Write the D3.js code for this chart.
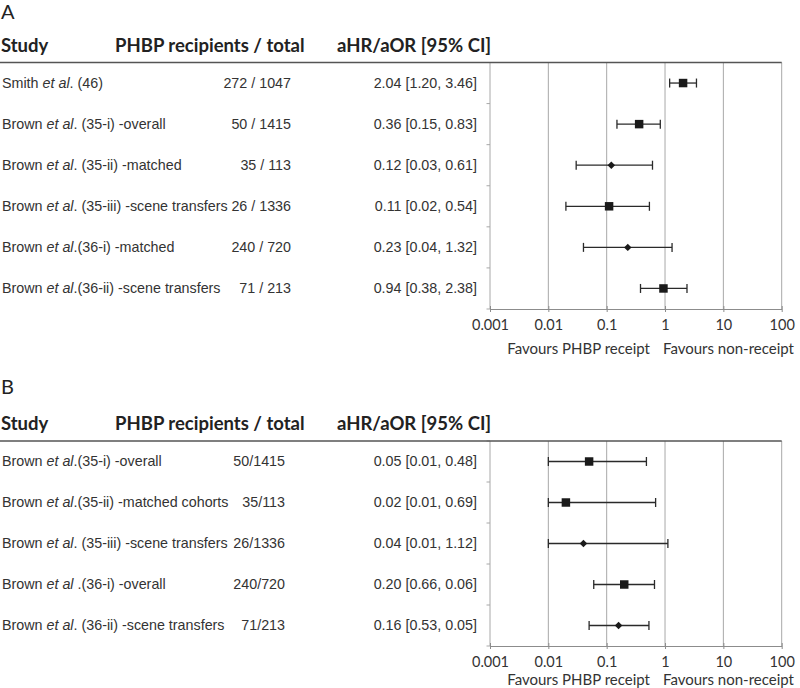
<!DOCTYPE html>
<html><head><meta charset="utf-8">
<script src="https://cdn.jsdelivr.net/npm/d3@7"></script>
<style>body{margin:0;background:#fff}svg{display:block}</style>
</head><body>
<script>
// ---- data ----
const tickValues = [0.001, 0.01, 0.1, 1, 10, 100];
const tickLabels = ["0.001", "0.01", "0.1", "1", "10", "100"];
const headers = ["Study", "PHBP recipients / total", "aHR/aOR [95% CI]"];
const favourLabels = ["Favours PHBP receipt", "Favours non-receipt"];

const studiesA = ["Smith et al. (46)", "Brown et al. (35-i) -overall", "Brown et al. (35-ii) -matched",
  "Brown et al. (35-iii) -scene transfers", "Brown et al.(36-i) -matched", "Brown et al.(36-ii) -scene transfers"];
const countsA = ["272 / 1047", "50 / 1415", "35 / 113", "26 / 1336", "240 / 720", "71 / 213"];
const estTextA = ["2.04 [1.20, 3.46]", "0.36 [0.15, 0.83]", "0.12 [0.03, 0.61]", "0.11 [0.02, 0.54]", "0.23 [0.04, 1.32]", "0.94 [0.38, 2.38]"];
const estA = [2.04, 0.36, 0.12, 0.11, 0.23, 0.94];
const loA = [1.20, 0.15, 0.03, 0.02, 0.04, 0.38];
const hiA = [3.46, 0.83, 0.61, 0.54, 1.32, 2.38];
const markerA = ["square", "square", "diamond", "square", "diamond", "square"];

const studiesB = ["Brown et al.(35-i) -overall", "Brown et al.(35-ii) -matched cohorts", "Brown et al. (35-iii) -scene transfers",
  "Brown et al .(36-i) -overall", "Brown et al. (36-ii) -scene transfers"];
const countsB = ["50/1415", "35/113", "26/1336", "240/720", "71/213"];
const estTextB = ["0.05 [0.01, 0.48]", "0.02 [0.01, 0.69]", "0.04 [0.01, 1.12]", "0.20 [0.66, 0.06]", "0.16 [0.53, 0.05]"];
const estB = [0.05, 0.02, 0.04, 0.20, 0.16];
const loB = [0.01, 0.01, 0.01, 0.06, 0.05];
const hiB = [0.48, 0.69, 1.12, 0.66, 0.53];
const markerB = ["square", "square", "diamond", "square", "diamond"];

// ---- layout ----
const W = 800, H = 688;
const svg = d3.select("body").append("svg").attr("width", W).attr("height", H);
const x = d3.scaleLog().domain([0.001, 100]).range([490, 781.7]);

const panels = [
  {label: "A", labelY: 19, headY: 52, top: 62.5, bottom: 309, favY: 354, countX: 291,
   studies: studiesA, counts: countsA, estText: estTextA, est: estA, lo: loA, hi: hiA, marker: markerA},
  {label: "B", labelY: 394, headY: 430, top: 441, bottom: 646, favY: 684.5, countX: 285,
   studies: studiesB, counts: countsB, estText: estTextB, est: estB, lo: loB, hi: hiB, marker: markerB}
];

const headFont = "Lato, 'Open Sans', sans-serif";
const rowFont = "'Liberation Sans', Arial, sans-serif";
const rowSize = 14.3;

panels.forEach(p => {
  const g = svg.append("g");
  const idx = d3.range(p.studies.length);
  const y = d3.scaleBand().domain(idx).range([p.top, p.bottom]);

  g.append("text").attr("x", 1).attr("y", p.labelY).text(p.label)
    .attr("font-family", headFont).attr("font-size", 20).attr("fill", "#222");

  // headers
  const hx = [1, 115, 337];
  headers.forEach((h, i) => {
    g.append("text").attr("x", hx[i]).attr("y", p.headY).text(h)
      .attr("font-family", headFont).attr("font-weight", "bold").attr("font-size", 18.5).attr("fill", "#222");
  });

  // vertical gridlines
  g.selectAll("line.grid").data(tickValues).join("line")
    .attr("x1", d => x(d)).attr("x2", d => x(d))
    .attr("y1", p.top).attr("y2", p.bottom)
    .attr("stroke", "#a8a8a8").attr("stroke-width", 1);

  // left ticks at band boundaries
  g.selectAll("line.lt").data(d3.range(p.studies.length + 1)).join("line")
    .attr("x1", x(0.001) - 3.5).attr("x2", x(0.001))
    .attr("y1", d => p.top + d * y.step()).attr("y2", d => p.top + d * y.step())
    .attr("stroke", "#a8a8a8");

  // bottom axis
  const axis = d3.axisBottom(x).tickValues(tickValues).tickFormat((d, i) => tickLabels[i]).tickSizeInner(3).tickSizeOuter(0);
  const ag = g.append("g").attr("transform", `translate(0,${p.bottom})`).call(axis);
  ag.select(".domain").attr("stroke", "#8c8c8c");
  ag.selectAll(".tick line").attr("y1", -3).attr("stroke", "#8c8c8c");
  ag.selectAll(".tick text").attr("font-family", headFont).attr("font-size", 14.5).attr("fill", "#333").attr("dy", null).attr("y", 21);

  // favours labels
  g.append("text").attr("x", 650).attr("y", p.favY).attr("text-anchor", "end").text(favourLabels[0])
    .attr("font-family", headFont).attr("font-size", 15).attr("fill", "#333");
  g.append("text").attr("x", 663).attr("y", p.favY).text(favourLabels[1])
    .attr("font-family", headFont).attr("font-size", 15).attr("fill", "#333");

  // header line
  g.append("line").attr("x1", 0).attr("x2", x(100)).attr("y1", p.top).attr("y2", p.top)
    .attr("stroke", "#555").attr("stroke-width", 1.6);

  // rows
  idx.forEach(i => {
    const cy = y(i) + y.bandwidth() / 2;
    const parts = p.studies[i].split("et al");
    const t = g.append("text").attr("x", 2).attr("y", cy + 4.5)
      .attr("font-family", rowFont).attr("font-size", rowSize).attr("fill", "#333");
    t.append("tspan").text(parts[0]);
    t.append("tspan").attr("font-style", "italic").text("et al");
    t.append("tspan").text(parts[1]);

    g.append("text").attr("x", p.countX).attr("y", cy + 4.5).attr("text-anchor", "end").text(p.counts[i])
      .attr("font-family", rowFont).attr("font-size", rowSize).attr("fill", "#333");
    g.append("text").attr("x", 477).attr("y", cy + 4.5).attr("text-anchor", "end").text(p.estText[i])
      .attr("font-family", rowFont).attr("font-size", rowSize).attr("fill", "#333");

    // whisker
    const wc = "#2a2a2a";
    g.append("line").attr("x1", x(p.lo[i])).attr("x2", x(p.hi[i])).attr("y1", cy).attr("y2", cy)
      .attr("stroke", wc).attr("stroke-width", 1.3);
    [p.lo[i], p.hi[i]].forEach(v => {
      g.append("line").attr("x1", x(v)).attr("x2", x(v)).attr("y1", cy - 4.5).attr("y2", cy + 4.5)
        .attr("stroke", wc).attr("stroke-width", 1.3);
    });
    const isSq = p.marker[i] === "square";
    g.append("path")
      .attr("d", d3.symbol().type(d3.symbolSquare).size(isSq ? 72 : 28)())
      .attr("transform", `translate(${x(p.est[i])},${cy}) rotate(${isSq ? 0 : 45})`)
      .attr("fill", "#1a1a1a");
  });
});
</script>
</body></html>
